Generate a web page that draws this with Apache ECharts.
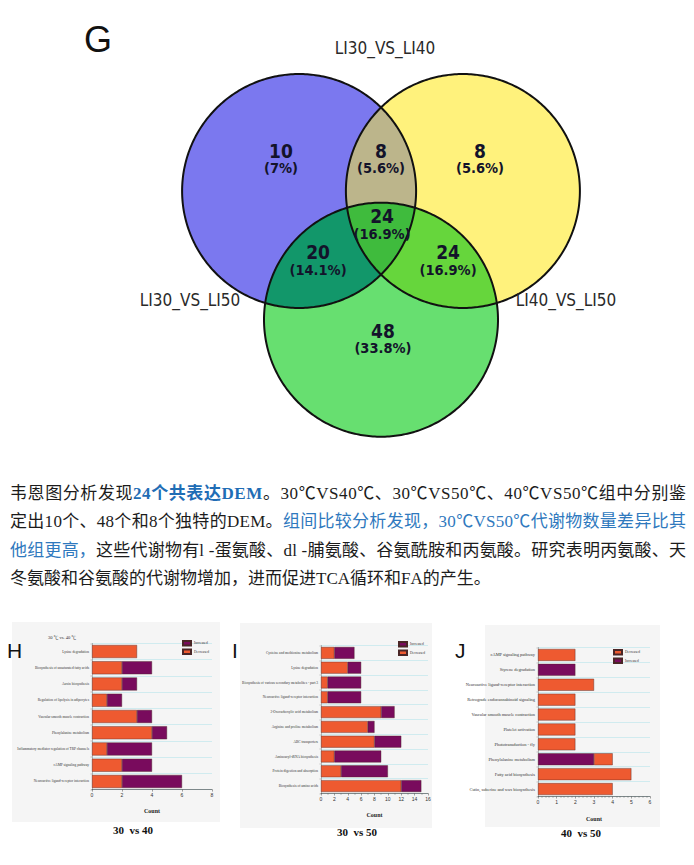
<!DOCTYPE html>
<html><head><meta charset="utf-8">
<script src="https://cdn.jsdelivr.net/npm/echarts@6/dist/echarts.min.js"></script>
<style>html,body{margin:0;padding:0;background:#fff}#c{width:694px;height:865px}</style>
</head><body><div id="c"></div><script>
// ---------------- DATA ----------------
const vennSetNames = ['LI30_VS_LI40', 'LI40_VS_LI50', 'LI30_VS_LI50'];
const vennRegionNames = ['A', 'AB', 'B', 'ABC', 'AC', 'BC', 'C'];
const vennRegionCounts = [10, 8, 8, 24, 20, 24, 48];

const hCategories = ['Lysine degradation', 'Biosynthesis of unsaturated fatty acids', 'Auxin biosynthesis',
  'Regulation of lipolysis in adipocytes', 'Vascular smooth muscle contraction', 'Phenylalanine metabolism',
  'Inflammatory mediator regulation of TRP channels', 'cAMP signaling pathway', 'Neuroactive ligand-receptor interaction'];
const hDecreased = [3, 2, 2, 1, 3, 4, 1, 2, 2];
const hIncreased = [0, 2, 1, 1, 1, 1, 3, 2, 4];

const iCategories = ['Cysteine and methionine metabolism', 'Lysine degradation',
  'Biosynthesis of various secondary metabolites - part 3', 'Neuroactive ligand-receptor interaction',
  '2-Oxocarboxylic acid metabolism', 'Arginine and proline metabolism', 'ABC transporters',
  'Aminoacyl-tRNA biosynthesis', 'Protein digestion and absorption', 'Biosynthesis of amino acids'];
const iDecreased = [2, 4, 1, 1, 9, 7, 8, 2, 3, 12];
const iIncreased = [3, 2, 5, 5, 2, 1, 4, 7, 7, 3];

const jCategories = ['cAMP signaling pathway', 'Styrene degradation', 'Neuroactive ligand-receptor interaction',
  'Retrograde endocannabinoid signaling', 'Vascular smooth muscle contraction', 'Platelet activation',
  'Phototransduction - fly', 'Phenylalanine metabolism', 'Fatty acid biosynthesis',
  'Cutin, suberine and wax biosynthesis'];
const jIncreased = [0, 2, 0, 0, 0, 0, 0, 3, 0, 0];
const jDecreased = [2, 0, 3, 2, 2, 2, 2, 1, 5, 4];

const paragraphLines = [
  [['n', '韦恩图分析发现'], ['b', '24个共表达DEM'], ['n', '。30℃VS40℃、30℃VS50℃、40℃VS50℃组中分别鉴']],
  [['n', '定出10个、48个和8个独特的DEM。'], ['l', '组间比较分析发现，30℃VS50℃代谢物数量差异比其']],
  [['l', '他组更高，'], ['n', '这些代谢物有l -蛋氨酸、dl -脯氨酸、谷氨酰胺和丙氨酸。研究表明丙氨酸、天']],
  [['n', '冬氨酸和谷氨酸的代谢物增加，进而促进TCA循环和FA的产生。']]
];

// ---------------- LAYOUT / STYLE ----------------
const VENN = {
  r: 1,
  unitPx: 117,
  gridLeft: 30, gridWidth: 634, gridTop: 15.5,
  xMin: -3, yMin: -2, yMax: 1.5,
  centers: { A: [-0.70, 0], B: [0.70, 0], C: [0, -1.10] },
  labelAt: { A: [-0.855, 0.274], AB: [0, 0.274], B: [0.846, 0.274], ABC: [0.009, -0.286],
             AC: [-0.538, -0.594], BC: [0.573, -0.594], C: [0.017, -1.261] },
  setLabelAt: [[0.034, 1.222], [1.581, -0.932], [-1.632, -0.932]],
  fills: { A: '#7b78ef', B: '#fff27c', C: '#67df70', AB: '#bcb58b', AC: '#12976a', BC: '#66d63c', ABC: '#3fbb3d' },
  paintOrder: ['A', 'B', 'C', 'AB', 'AC', 'BC', 'ABC']
};
VENN.xMax = VENN.xMin + VENN.gridWidth / VENN.unitPx;
VENN.gridHeight = (VENN.yMax - VENN.yMin) * VENN.unitPx;

const ORANGE = '#ee5a30', PURPLE = '#790b5d';
const SERIF = "'Liberation Serif', serif";
const TEXT_FONT = "'Liberation Serif','Noto Sans CJK SC',serif";
const COND = "'DejaVu Sans Condensed','Liberation Sans Narrow','DejaVu Sans'";
const NARROW = "'Liberation Sans Narrow','DejaVu Sans Condensed','Liberation Sans'";

// --------------- geometry helpers ---------------
function circlePoly(c, r, n) {
  const pts = [];
  for (let i = 0; i < n; i++) { const t = 2 * Math.PI * i / n; pts.push([c[0] + r * Math.cos(t), c[1] + r * Math.sin(t)]); }
  return pts;
}
function clip(subject, clipPoly) {
  let output = subject;
  for (let i = 0; i < clipPoly.length; i++) {
    const a = clipPoly[i], b = clipPoly[(i + 1) % clipPoly.length];
    const input = output; output = [];
    if (!input.length) break;
    const inside = p => (b[0] - a[0]) * (p[1] - a[1]) - (b[1] - a[1]) * (p[0] - a[0]) >= 0;
    const inter = (p, q) => {
      const x1 = p[0], y1 = p[1], x2 = q[0], y2 = q[1], x3 = a[0], y3 = a[1], x4 = b[0], y4 = b[1];
      const den = (x1 - x2) * (y3 - y4) - (y1 - y2) * (x3 - x4);
      const t = ((x1 - x3) * (y3 - y4) - (y1 - y3) * (x3 - x4)) / den;
      return [x1 + t * (x2 - x1), y1 + t * (y2 - y1)];
    };
    for (let j = 0; j < input.length; j++) {
      const cur = input[j], prev = input[(j + input.length - 1) % input.length];
      const ci = inside(cur), pi = inside(prev);
      if (ci) { if (!pi) output.push(inter(prev, cur)); output.push(cur); }
      else if (pi) output.push(inter(prev, cur));
    }
  }
  return output;
}
const shapes = {};
['A', 'B', 'C'].forEach(k => shapes[k] = circlePoly(VENN.centers[k], VENN.r, 360));
shapes.AB = clip(shapes.A, shapes.B);
shapes.AC = clip(shapes.A, shapes.C);
shapes.BC = clip(shapes.B, shapes.C);
shapes.ABC = clip(shapes.AB, shapes.C);
const vennTotal = vennRegionCounts.reduce((s, v) => s + v, 0);
const pctText = v => { let s = (v / vennTotal * 100).toFixed(1); if (s.endsWith('.0')) s = s.slice(0, -2); return s + '%'; };

// --------------- paragraph graphic ---------------
const graphics = [];
const paraStyles = { n: { fill: '#1c1c1c' }, b: { fill: '#1f6db5', fontWeight: 'bold' }, l: { fill: '#2f79be' } };
const para = { x: 10, y0: 493, dy: 28.5, width: 676, fontSize: 17, justify: [true, true, true, false] };
const mctx = document.createElement('canvas').getContext('2d');
paragraphLines.forEach((segs, li) => {
  const chars = [];
  segs.forEach(([s, t]) => { for (const ch of t) chars.push([s, ch]); });
  let W = 0;
  chars.forEach(([s, ch]) => {
    mctx.font = (paraStyles[s].fontWeight || 'normal') + ' ' + para.fontSize + 'px ' + TEXT_FONT;
    W += mctx.measureText(ch).width;
  });
  const gap = para.justify[li] ? Math.max(0, (para.width - W) / (chars.length - 1)) : 0;
  const rich = {};
  Object.keys(paraStyles).forEach(s => {
    const base = Object.assign({ fontSize: para.fontSize, fontFamily: TEXT_FONT, fontWeight: 'normal' }, paraStyles[s]);
    rich[s] = base;
    rich[s + 'g'] = Object.assign({}, base, { padding: [0, gap, 0, 0] });
  });
  const text = chars.map(([s, ch], i) => '{' + (i < chars.length - 1 && gap > 0 ? s + 'g' : s) + '|' + ch + '}').join('');
  graphics.push({ type: 'text', x: para.x, y: para.y0 + li * para.dy, silent: true,
    style: { text: text, rich: rich, fontSize: para.fontSize, fontFamily: TEXT_FONT, verticalAlign: 'middle', align: 'left' } });
});

// panels, letters, captions
const panels = [
  { x: 12, y: 622, w: 208, h: 200 },
  { x: 240, y: 623, w: 192, h: 205 },
  { x: 485, y: 625, w: 175, h: 202 }
];
panels.forEach(p => graphics.push({ type: 'rect', z: -10, silent: true, shape: { x: p.x, y: p.y, width: p.w, height: p.h }, style: { fill: '#f5f5f5' } }));
[['G', 84, 39, 36], ['H', 7, 650, 21], ['I', 232, 650, 21], ['J', 455, 650, 21]].forEach(([t, x, y, fs]) =>
  graphics.push({ type: 'text', x: x, y: y, silent: true, style: { text: t, fontSize: fs, fontFamily: "'Liberation Sans', Arial", fill: '#111', verticalAlign: 'middle' } }));
[['30  vs 40', 133, 830], ['30  vs 50', 357, 832], ['40  vs 50', 581, 833]].forEach(([t, x, y]) =>
  graphics.push({ type: 'text', x: x, y: y, silent: true, style: { text: t, fontSize: 11, fontWeight: 'bold', fontFamily: SERIF, fill: '#111', align: 'center', verticalAlign: 'middle' } }));
graphics.push({ type: 'text', x: 62, y: 637, silent: true, style: { text: '30 ℃ vs. 40 ℃', fontSize: 4.6, fontFamily: TEXT_FONT, fill: '#333', align: 'center', verticalAlign: 'middle' } });

// --------------- bar chart helpers ---------------
const nz = arr => arr.map(v => (v === 0 ? null : v));
function barAxes(gi, cats, max, interval, minor, nameGap, labelSize) {
  return {
    x: { type: 'value', gridIndex: gi, min: 0, max: max, interval: interval,
      axisLine: { show: true, lineStyle: { color: '#444', width: 0.6 } },
      axisTick: { show: true, length: 2, lineStyle: { color: '#444', width: 0.5 } },
      minorTick: { show: minor > 0, splitNumber: minor || 5, length: 1.3, lineStyle: { color: '#444', width: 0.4 } },
      axisLabel: { fontSize: 5, color: '#333', margin: 3, fontFamily: "'Liberation Sans', Arial" },
      splitLine: { show: false },
      name: 'Count', nameLocation: 'middle', nameGap: nameGap,
      nameTextStyle: { fontSize: 6, fontWeight: 'bold', fontFamily: SERIF, color: '#222' } },
    y: { type: 'category', gridIndex: gi, data: cats, inverse: true,
      axisLine: { show: true, lineStyle: { color: '#777', width: 0.5 } },
      axisTick: { show: true, length: 1.5, lineStyle: { color: '#666', width: 0.4 } },
      axisLabel: { interval: 0, fontSize: labelSize, fontFamily: SERIF, color: '#333', margin: 3 },
      splitLine: { show: true, lineStyle: { color: '#c6e8ee', width: 0.8 } } }
  };
}
const aH = barAxes(1, hCategories, 8, 2, 0, 18, 3.5);
const aI = barAxes(2, iCategories, 16, 2, 2, 18.5, 3.5);
const aJ = barAxes(3, jCategories, 6, 1, 5, 19.5, 4.4);
const barStyle = c => ({ color: c, borderColor: '#4a2626', borderWidth: 0.4 });
function bar(name, gi, stack, data, color) {
  return { type: 'bar', name: name, xAxisIndex: gi, yAxisIndex: gi, stack: stack, data: nz(data),
    barCategoryGap: '20%', itemStyle: barStyle(color), silent: true };
}
const legendBase = { orient: 'vertical', itemWidth: 8, itemHeight: 4.5, itemGap: 2, icon: 'rect', padding: 0,
  selectedMode: false, textStyle: { fontSize: 3.6, fontFamily: SERIF, color: '#333', padding: [0, 0, 0, -2] } };

const option = {
  animation: false,
  backgroundColor: '#ffffff',
  grid: [
    { left: VENN.gridLeft, top: VENN.gridTop, width: VENN.gridWidth, height: VENN.gridHeight, show: false },
    { left: 92, top: 643.4, width: 120, height: 146.2 },
    { left: 321, top: 645.5, width: 107, height: 148 },
    { left: 538, top: 647.5, width: 112, height: 149 }
  ],
  xAxis: [{ type: 'value', gridIndex: 0, min: VENN.xMin, max: VENN.xMax, show: false }, aH.x, aI.x, aJ.x],
  yAxis: [{ type: 'value', gridIndex: 0, min: VENN.yMin, max: VENN.yMax, show: false }, aH.y, aI.y, aJ.y],
  legend: [
    Object.assign({}, legendBase, { data: ['Increased', 'Decreased'], left: 182, top: 640 }),
    Object.assign({}, legendBase, { data: ['Increased', 'Decreased'], left: 398, top: 641 }),
    Object.assign({}, legendBase, { data: ['Decreased', 'Increased'], left: 613, top: 649 })
  ],
  graphic: graphics,
  series: [
    { type: 'custom', coordinateSystem: 'cartesian2d', xAxisIndex: 0, yAxisIndex: 0, silent: true, z: 1,
      data: VENN.paintOrder.map(() => [0, 0]),
      renderItem: (params, api) => {
        const k = VENN.paintOrder[params.dataIndex];
        return { type: 'polygon', shape: { points: shapes[k].map(p => api.coord(p)) }, style: { fill: VENN.fills[k], stroke: null } };
      } },
    { type: 'custom', coordinateSystem: 'cartesian2d', xAxisIndex: 0, yAxisIndex: 0, silent: true, z: 3,
      data: ['A', 'B', 'C'].map(() => [0, 0]),
      renderItem: (params, api) => {
        const k = ['A', 'B', 'C'][params.dataIndex];
        return { type: 'polygon', shape: { points: shapes[k].map(p => api.coord(p)) }, style: { fill: null, stroke: '#111', lineWidth: 2 } };
      } },
    { type: 'custom', coordinateSystem: 'cartesian2d', xAxisIndex: 0, yAxisIndex: 0, silent: true, z: 5,
      data: vennRegionCounts.map(() => [0, 0]),
      renderItem: (params, api) => {
        const i = params.dataIndex, k = vennRegionNames[i], p = api.coord(VENN.labelAt[k]);
        return { type: 'text', x: p[0], y: p[1], style: {
          text: '{n|' + vennRegionCounts[i] + '}\n{p|(' + pctText(vennRegionCounts[i]) + ')}',
          align: 'center', verticalAlign: 'middle', fill: '#13132a',
          rich: { n: { fontSize: 19, fontWeight: 'bold', fontFamily: COND, fill: '#13132a', lineHeight: 19 },
                  p: { fontSize: 14.5, fontWeight: 'bold', fontFamily: COND, fill: '#13132a', lineHeight: 16 } } } };
      } },
    { type: 'custom', coordinateSystem: 'cartesian2d', xAxisIndex: 0, yAxisIndex: 0, silent: true, z: 5,
      data: vennSetNames.map(() => [0, 0]),
      renderItem: (params, api) => {
        const i = params.dataIndex, p = api.coord(VENN.setLabelAt[i]);
        return { type: 'text', x: p[0], y: p[1], style: { text: vennSetNames[i], fontSize: 17,
          fontFamily: NARROW, fill: '#2a2a2a', align: 'center', verticalAlign: 'middle' } };
      } },
    bar('Decreased', 1, 'h', hDecreased, ORANGE),
    bar('Increased', 1, 'h', hIncreased, PURPLE),
    bar('Decreased', 2, 'i', iDecreased, ORANGE),
    bar('Increased', 2, 'i', iIncreased, PURPLE),
    bar('Increased', 3, 'j', jIncreased, PURPLE),
    bar('Decreased', 3, 'j', jDecreased, ORANGE)
  ]
};
const chart = echarts.init(document.getElementById('c'), null, { renderer: 'svg' });
chart.setOption(option);
</script></body></html>
